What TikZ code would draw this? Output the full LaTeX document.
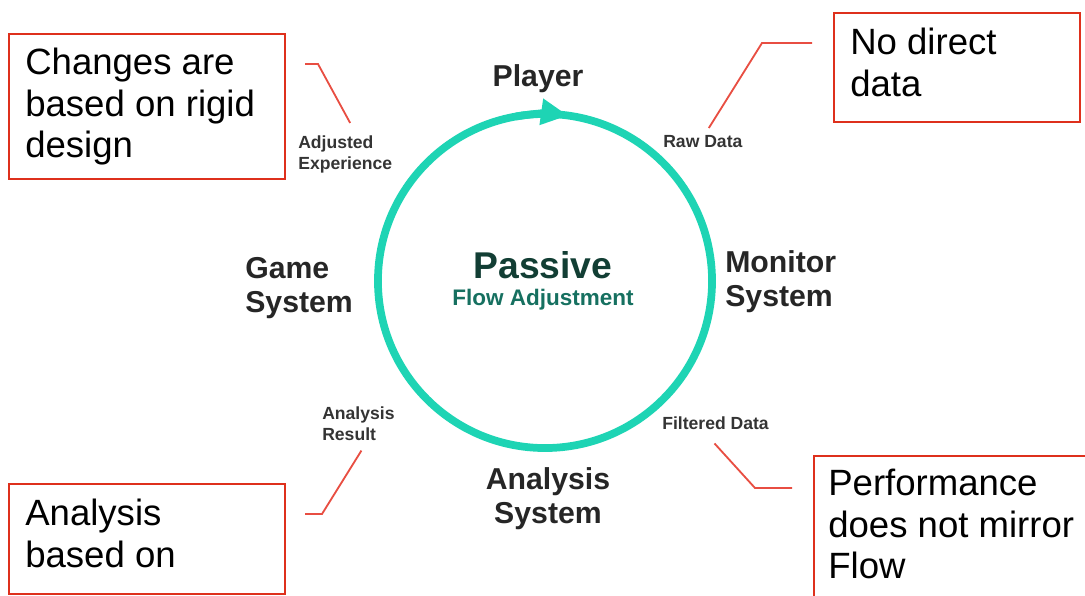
\documentclass[tikz,border=0pt]{standalone}
\usepackage{fontspec}
\setmainfont{Liberation Sans}
\usetikzlibrary{arrows.meta, positioning}

\definecolor{ringteal}{RGB}{30,212,180}
\definecolor{notered}{RGB}{222,48,28}
\definecolor{leaderred}{RGB}{232,78,66}
\definecolor{stagegray}{RGB}{38,38,38}
\definecolor{taggray}{RGB}{52,52,52}
\definecolor{passivegreen}{RGB}{18,62,52}
\definecolor{flowgreen}{RGB}{22,112,96}

\begin{document}
\begin{tikzpicture}[
    x=0.025cm, y=0.025cm,
    note/.style={rectangle, draw=notered, line width=1.5pt, anchor=north west},
    notetext/.style={font=\fontsize{26}{29.5}\selectfont, align=left, inner sep=0pt},
    stage/.style={font=\bfseries\fontsize{21.5}{24.5}\selectfont, text=stagegray, align=left, inner sep=0pt},
    flowtag/.style={font=\bfseries\fontsize{12.5}{15}\selectfont, text=taggray, align=left, inner sep=0pt, anchor=north west},
    leader/.style={draw=leaderred, line width=1.3pt},
    ring/.style={draw=ringteal, line width=5.5pt}
]

\clip (0,0) rectangle (1085,595);

% ============ LOOP ============
\node[ring, circle, minimum size=8.35cm, inner sep=0pt, outer sep=0pt] (loop) at (545,314) {};
\draw[ring, -{Triangle[length=0.68cm, width=0.62cm]}] (loop.100) arc[start angle=100, end angle=82, radius=4.175cm];

\node[font=\bfseries\fontsize{26.5}{30}\selectfont, text=passivegreen, anchor=base] (passive) at (543,317) {Passive};
\node[font=\bfseries\fontsize{16}{18}\selectfont, text=flowgreen, anchor=base] (flowadj) at (543,290) {Flow Adjustment};

% ============ STAGES ============
\node[stage, anchor=base] (player) at (538,509) {Player};
\node[stage, anchor=north west] (monitor) at (725,345) {Monitor\\System};
\node[stage, anchor=north, align=center] (analysis) at (548,128) {Analysis\\System};
\node[stage, anchor=north west] (game) at (245,338) {Game\\System};

% ============ FLOW TAGS ============
\node[flowtag] (rawdata) at (663,460) {Raw Data};
\node[flowtag] (filtdata) at (662,179) {Filtered Data};
\node[flowtag] (anaresult) at (322,189) {Analysis\\Result};
\node[flowtag] (adjexp) at (298,460) {Adjusted\\Experience};

% ============ NOTES ============
\node[note, minimum width=6.9cm, minimum height=3.625cm] (change) at (8,562) {};
\node[notetext, below right=0.375cm and 0.425cm of change.north west] (changetext) {Changes are\\based on rigid\\design};

\node[note, minimum width=6.15cm, minimum height=2.725cm] (nodata) at (833,583) {};
\node[notetext, below right=0.4cm and 0.425cm of nodata.north west] (nodatatext) {No direct\\data};

\node[note, minimum width=6.9cm, minimum height=2.75cm] (basedon) at (8,112) {};
\node[notetext, below right=0.4cm and 0.425cm of basedon.north west] (basedontext) {Analysis\\based on};

\node[note, minimum width=7.25cm, minimum height=3.75cm] (mirror) at (813,140) {};
\node[notetext, below right=0.35cm and 0.375cm of mirror.north west] (mirrortext) {Performance\\does not mirror\\Flow};

% ============ LEADERS ============
\coordinate (adjbend) at (318,531);
\coordinate (adjend) at (305,531);
\coordinate (rawbend) at (762,552);
\coordinate (rawend) at (812,552);
\coordinate (resbend) at (322,81);
\coordinate (resend) at (305,81);
\coordinate (filtbend) at (755,107);
\coordinate (filtend) at (792,107);

\draw[leader] ([shift={(5,12)}]adjexp.north) -- (adjbend) -- (adjend);
\draw[leader] ([shift={(6,7)}]rawdata.north) -- (rawbend) -- (rawend);
\draw[leader] ([shift={(3,-10)}]anaresult.south) -- (resbend) -- (resend);
\draw[leader] ([shift={(-1,-14)}]filtdata.south) -- (filtbend) -- (filtend);

\end{tikzpicture}
\end{document}
